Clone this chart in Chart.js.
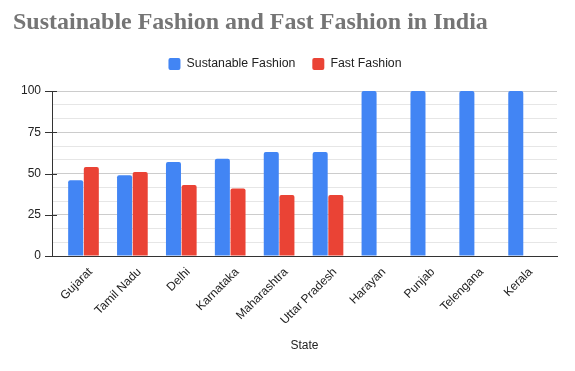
<!DOCTYPE html>
<html>
<head>
<meta charset="utf-8">
<script src="https://cdn.jsdelivr.net/npm/chart.js@4/dist/chart.umd.min.js"></script>
<style>
  html, body { margin: 0; padding: 0; background: #fff; }
  #wrap { width: 575px; height: 371px; position: relative; }
</style>
</head>
<body>
<div id="wrap"><canvas id="c"></canvas></div>
<script>
const states = ['Gujarat', 'Tamil Nadu', 'Delhi', 'Karnataka', 'Maharashtra', 'Uttar Pradesh', 'Harayan', 'Punjab', 'Telengana', 'Kerala'];
const sustainableFashion = [46, 49, 57, 59, 63, 63, 100, 100, 100, 100];
const fastFashion = [54, 51, 43, 41, 37, 37, null, null, null, null];
const yMajorTicks = [0, 25, 50, 75, 100];
const yMinorPerMajor = 3;

const toPoints = arr => arr.map((v, i) => ({ x: i, y: v }));
const isMajor = v => yMajorTicks.some(m => Math.abs(m - v) < 1e-6);

const gridValues = [];
for (let i = 0; i < yMajorTicks.length - 1; i++) {
  const a = yMajorTicks[i], b = yMajorTicks[i + 1];
  for (let k = 0; k < yMinorPerMajor; k++) gridValues.push(a + (b - a) * k / yMinorPerMajor);
}
gridValues.push(yMajorTicks[yMajorTicks.length - 1]);

const FONT = "'Liberation Sans', Arial, sans-serif";

const legendSpacer = {
  id: 'legendSpacer',
  afterInit(chart) {
    const lg = chart.legend;
    if (!lg) return;
    const fit = lg.fit;
    lg.fit = function () { fit.call(this); this.height += 11; };
  }
};

const axisTicks = {
  id: 'axisTicks',
  afterDatasetsDraw(chart) {
    const y = chart.scales.y, ctx = chart.ctx, left = chart.chartArea.left;
    ctx.save();
    ctx.strokeStyle = '#333';
    ctx.lineWidth = 1;
    yMajorTicks.forEach(v => {
      const py = Math.round(y.getPixelForValue(v)) + 0.5;
      ctx.beginPath();
      ctx.moveTo(left - 7, py);
      ctx.lineTo(left + 5, py);
      ctx.stroke();
    });
    ctx.restore();
  }
};

new Chart(document.getElementById('c'), {
  type: 'bar',
  data: {
    datasets: [
      { label: 'Sustanable Fashion', data: toPoints(sustainableFashion), backgroundColor: '#4285F4', borderRadius: 2, borderSkipped: 'bottom' },
      { label: 'Fast Fashion', data: toPoints(fastFashion), backgroundColor: '#EA4335', borderRadius: 2, borderSkipped: 'bottom' }
    ]
  },
  plugins: [legendSpacer, axisTicks],
  options: {
    responsive: true,
    maintainAspectRatio: false,
    animation: false,
    datasets: { bar: { categoryPercentage: 0.64, barPercentage: 0.96 } },
    layout: { padding: { left: 13, right: 18, top: 0, bottom: 15 } },
    plugins: {
      title: {
        display: true,
        text: 'Sustainable Fashion and Fast Fashion in India',
        align: 'start',
        color: '#757575',
        font: { family: "'Liberation Serif', serif", size: 24, weight: 'bold' },
        padding: { top: 8, bottom: 4 }
      },
      legend: {
        display: true,
        position: 'top',
        labels: {
          color: '#222',
          font: { family: FONT, size: 12.3 },
          boxWidth: 12,
          boxHeight: 12,
          useBorderRadius: true,
          borderRadius: 2,
          padding: 17
        }
      },
      tooltip: { enabled: false }
    },
    scales: {
      x: {
        type: 'linear',
        offset: false,
        min: -0.644,
        max: 9.683,
        grid: { display: false, drawTicks: false, offset: false },
        border: { display: true, color: '#333' },
        afterBuildTicks: s => { s.ticks = states.map((_, i) => ({ value: i })); },
        afterFit: s => { s.height = 100; },
        ticks: {
          autoSkip: false,
          maxRotation: 45,
          minRotation: 45,
          padding: 9,
          labelOffset: 7,
          color: '#222',
          font: { family: FONT, size: 12 },
          callback: v => states[v]
        },
        title: {
          display: true,
          text: 'State',
          color: '#222',
          font: { family: FONT, size: 12 },
          padding: { top: 3, bottom: 3 }
        }
      },
      y: {
        min: 0,
        max: 100,
        afterBuildTicks: s => { s.ticks = gridValues.map(v => ({ value: v })); },
        afterFit: s => { s.width = 39; },
        grid: {
          drawTicks: false,
          color: c => (c.tick && Math.abs(c.tick.value) < 1e-6) ? '#333' : (c.tick && isMajor(c.tick.value) ? '#cccccc' : '#e6e6e6')
        },
        border: { display: true, color: '#333' },
        ticks: {
          autoSkip: false,
          padding: 11,
          color: '#222',
          font: { family: FONT, size: 12 },
          callback: v => isMajor(v) ? String(Math.round(v)) : ''
        }
      }
    }
  }
});
</script>
</body>
</html>
